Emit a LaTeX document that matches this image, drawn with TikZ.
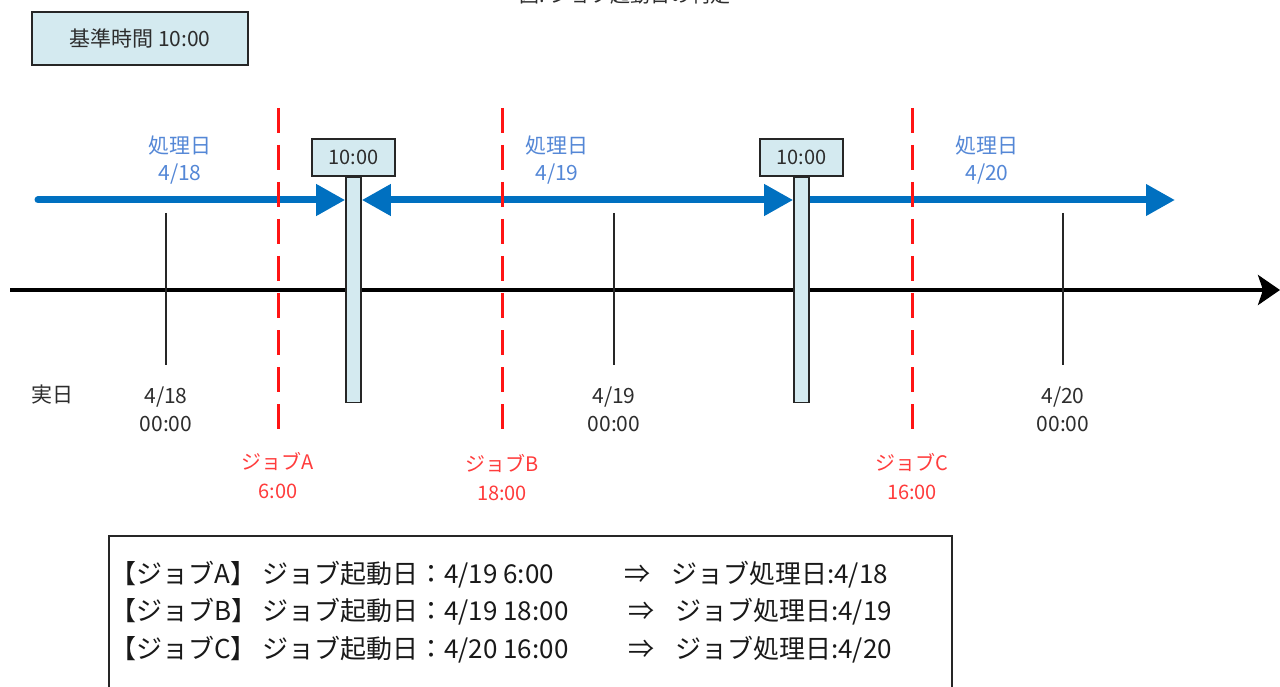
\documentclass[tikz,border=0pt]{standalone}
\usepackage{fontspec}
\setmainfont{Noto Sans CJK JP}
\usepackage{xcolor}
\usepackage{tikz}
\usetikzlibrary{arrows.meta,positioning,calc}
\definecolor{procblue}{RGB}{0,112,192}
\definecolor{proctext}{RGB}{84,135,214}
\definecolor{jobred}{RGB}{255,20,20}
\definecolor{jobtext}{RGB}{255,60,60}
\definecolor{boxfill}{RGB}{212,234,240}
\definecolor{daytext}{RGB}{45,45,45}
\tikzset{
  tbox/.style={rectangle, draw=black!85, line width=1.6pt, fill=boxfill, inner sep=0pt,
               align=center, text=daytext},
  daybar/.style={rectangle, draw=black!85, line width=1.6pt, fill=boxfill, inner sep=0pt,
                 minimum width=15pt, minimum height=225pt},
  axis/.style={-{Stealth[length=22pt,width=30pt,inset=5pt]}, line width=4pt},
  daytick/.style={draw=black!85, line width=2pt},
  jobline/.style={draw=jobred, line width=3pt, dash pattern=on 25pt off 12pt},
  proc/.style={-{Triangle[length=29pt,width=30pt]}, line width=7pt, line cap=round, draw=procblue},
  procb/.style={{Triangle[length=29pt,width=30pt]}-{Triangle[length=29pt,width=30pt]},
                line width=7pt, draw=procblue}
}
\begin{document}
\begin{tikzpicture}[
  x=1pt, y=-1pt,
  plbl/.style={align=center, inner sep=0pt, text=proctext, font=\fontsize{21}{27}\selectfont},
  dlbl/.style={align=center, inner sep=0pt, text=daytext, font=\fontsize{21}{28}\selectfont},
  jlbl/.style={align=center, inner sep=0pt, text=jobtext, font=\fontsize{20}{29}\selectfont},
  listbox/.style={rectangle, draw=black!85, line width=2pt, inner sep=0pt, fill=white},
  listrow/.style={anchor=west, inner sep=0pt, text=black!90, font=\fontsize{26}{30}\selectfont}
]
\useasboundingbox (0,0) rectangle (1280,687);
% ---- title and reference time ----
\node[anchor=base, text=daytext, font=\fontsize{20}{24}\selectfont] (title) at (625,2.5) {図: ジョブ起動日の判定};
\node[tbox, minimum width=216pt, minimum height=53pt, font=\fontsize{21}{24}\selectfont] (base) at (140,38.5) {基準時間 10:00};
% ---- real time axis ----
\coordinate (t0) at (10,290);
\coordinate (t1) at (1280,290);
\draw[axis] (t0) -- (t1);
\coordinate (d1a) at (166,213);  \coordinate (d1b) at (166,365);
\coordinate (d2a) at (614,213);  \coordinate (d2b) at (614,365);
\coordinate (d3a) at (1063,213); \coordinate (d3b) at (1063,365);
\draw[daytick] (d1a) -- (d1b);
\draw[daytick] (d2a) -- (d2b);
\draw[daytick] (d3a) -- (d3b);
\node[dlbl] (real) at (52,395) {実日};
\node[dlbl] (dl1) at (166,409) {4/18\\00:00};
\node[dlbl] (dl2) at (614,409) {4/19\\00:00};
\node[dlbl] (dl3) at (1063,409) {4/20\\00:00};
% ---- change of processing day ----
\node[daybar] (bar1) at (353.5,290) {};
\node[daybar] (bar2) at (801.5,290) {};
\node[tbox, minimum width=83pt, minimum height=37pt, font=\fontsize{20}{24}\selectfont, above=0pt of bar1] (c1) {10:00};
\node[tbox, minimum width=83pt, minimum height=37pt, font=\fontsize{20}{24}\selectfont, above=0pt of bar2] (c2) {10:00};
% ---- processing days ----
\coordinate (p0) at (38,200);
\coordinate (p3) at (1175,200);
\draw[proc] (p0) -- (p0 -| bar1.west);
\draw[procb] (p0 -| bar1.east) -- (p0 -| bar2.west);
\draw[proc] (p0 -| bar2.east) -- (p3);
\node[plbl] (pl1) at (180,160) {処理日\\4/18};
\node[plbl] (pl2) at (557,160) {処理日\\4/19};
\node[plbl] (pl3) at (987,160) {処理日\\4/20};
% ---- job start times ----
\node[jlbl] (ja) at (278,476) {ジョブA\\6:00};
\node[jlbl] (jb) at (502,478) {ジョブB\\18:00};
\node[jlbl] (jc) at (912,477) {ジョブC\\16:00};
\coordinate (ja0) at (278,108);
\coordinate (jb0) at (502,108);
\coordinate (jc0) at (912,108);
\draw[jobline] (ja0) -- (ja0 |- 0,440);
\draw[jobline] (jb0) -- (jb0 |- 0,440);
\draw[jobline] (jc0) -- (jc0 |- 0,440);
\node[daybar] at (bar1) {};
\node[daybar] at (bar2) {};
% ---- result list ----
\node[listbox, anchor=north west, minimum width=843pt, minimum height=180pt] (list) at (108,535) {};
\node[listrow] (r1) at (110,575) {\makebox[152pt][l]{【ジョブA】}\makebox[362pt][l]{ジョブ起動日：4/19 6:00}\makebox[47pt][l]{⇒}ジョブ処理日:4/18};
\node[listrow] (r2) at (110,612) {\makebox[152pt][l]{【ジョブB】}\makebox[366pt][l]{ジョブ起動日：4/19 18:00}\makebox[47pt][l]{⇒}ジョブ処理日:4/19};
\node[listrow] (r3) at (110,650) {\makebox[152pt][l]{【ジョブC】}\makebox[366pt][l]{ジョブ起動日：4/20 16:00}\makebox[47pt][l]{⇒}ジョブ処理日:4/20};
\end{tikzpicture}
\end{document}
